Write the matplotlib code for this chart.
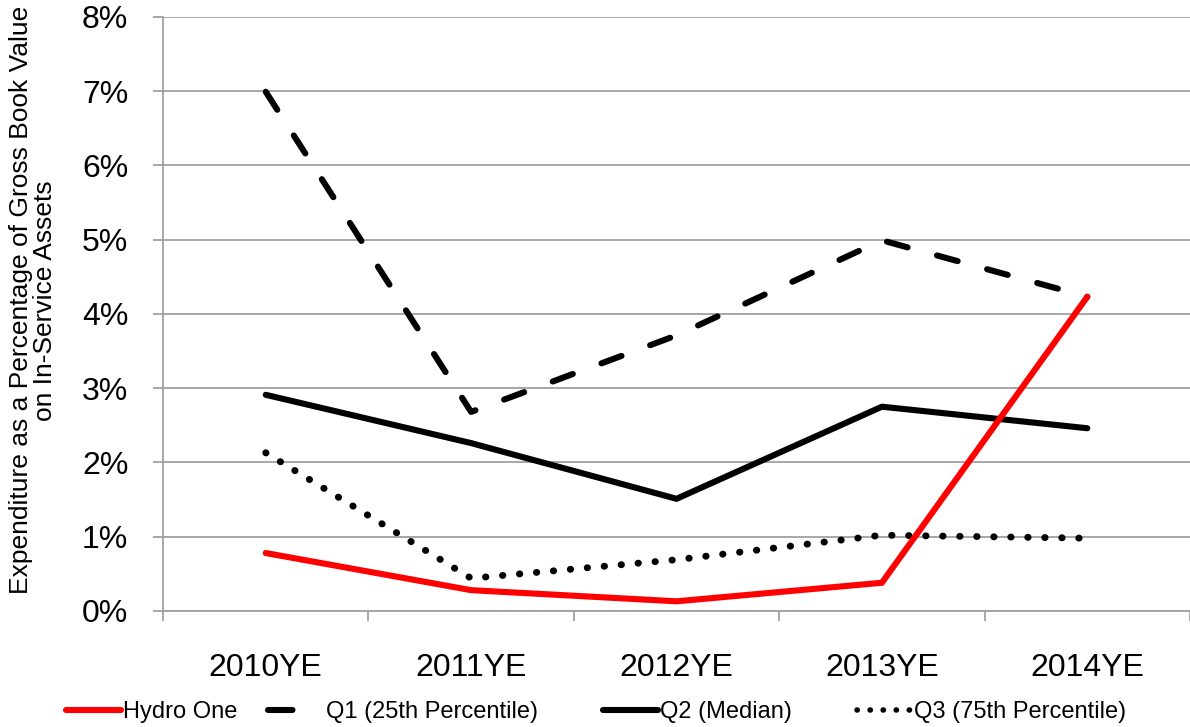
import matplotlib.pyplot as plt
import numpy as np
from matplotlib.lines import Line2D

plt.rcParams['font.family'] = ['Liberation Sans', 'DejaVu Sans']

years = ['2010YE', '2011YE', '2012YE', '2013YE', '2014YE']
hydro_one = [0.78, 0.28, 0.13, 0.38, 4.23]
q1 = [6.99, 2.68, 3.71, 4.99, 4.23]
q2 = [2.91, 2.26, 1.51, 2.75, 2.46]
q3 = [2.13, 0.44, 0.69, 1.02, 0.98]

fig = plt.figure(figsize=(11.9, 7.27), dpi=100)
ax = fig.add_axes([0.137, 0.1596, 0.863, 0.8174])

x = np.arange(len(years))
lw = 4.4
dash_q1 = (3.5, 5.0)
dot_q3 = (0.05, 2.4)

ax.plot(x, hydro_one, color='#ff0000', lw=lw, solid_capstyle='round',
        solid_joinstyle='miter', zorder=5)
ax.plot(x, q1, color='black', lw=lw, dashes=dash_q1, dash_capstyle='round', zorder=4)
ax.plot(x, q2, color='black', lw=lw, solid_capstyle='round', zorder=4)
ax.plot(x, q3, color='black', lw=5, dashes=dot_q3, dash_capstyle='round', zorder=4)

ax.set_xlim(-0.5, 4.5)
ax.set_ylim(0, 8)
ax.set_yticks(np.arange(0, 9, 1))
ax.set_yticklabels(['%d%%' % v for v in range(9)])
ax.set_xticks(x)
ax.set_xticklabels(years)
ax.set_xticks(np.arange(-0.5, 5, 1), minor=True)

ax.grid(axis='y', color='#a0a0a0', lw=1.3)
ax.set_axisbelow(True)
for s in ['top', 'right', 'bottom']:
    ax.spines[s].set_visible(False)
ax.spines['left'].set_color('#a0a0a0')
ax.spines['left'].set_linewidth(1.3)
ax.axhline(0, color='#a0a0a0', lw=1.3, zorder=1, clip_on=False)

ax.tick_params(axis='y', length=7, width=1.3, color='#a0a0a0', pad=18, labelsize=23)
ax.tick_params(axis='x', which='major', length=0, pad=30, labelsize=23)
ax.tick_params(axis='x', which='minor', length=7, width=1.3, color='#a0a0a0')

fig.text(0.028, 0.587, 'Expenditure as a Percentage of Gross Book Value\non In-Service Assets',
         rotation=90, ha='center', va='center', fontsize=19, linespacing=1.0)

# legend entries placed one by one along the bottom
entries = [
    (66, Line2D([], [], color='#ff0000', lw=lw, solid_capstyle='round'), 'Hydro One'),
    (268, Line2D([], [], color='black', lw=lw, dashes=(4.0, 30.0), dash_capstyle='round'),
     'Q1 (25th Percentile)'),
    (603, Line2D([], [], color='black', lw=lw, solid_capstyle='round'), 'Q2 (Median)'),
    (857, Line2D([], [], color='black', lw=4, dashes=(0.05, 2.3), dash_capstyle='round'),
     'Q3 (75th Percentile)'),
]
for xpix, handle, label in entries:
    hl = 2.4 if label.startswith('Q1') else 2.35
    leg = fig.legend([handle], [label], loc='center left',
                     bbox_to_anchor=(xpix / 1190, 15 / 727), frameon=False,
                     fontsize=17, handlelength=hl, handletextpad=0.05,
                     borderpad=0, borderaxespad=0)

fig.savefig('out.png', dpi=100)
